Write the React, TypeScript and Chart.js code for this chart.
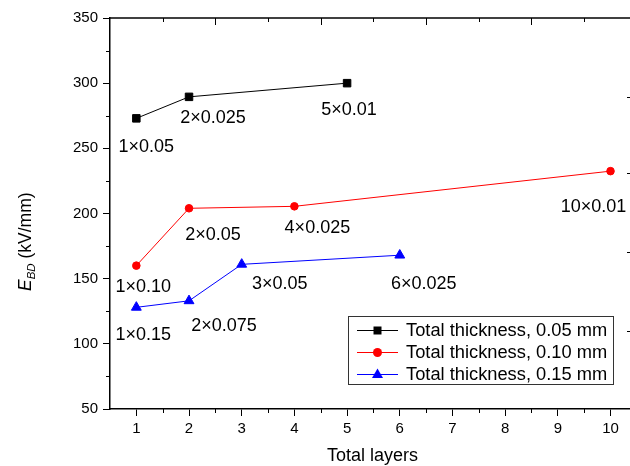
import React, { useEffect, useRef } from "react";
import { Chart, registerables } from "chart.js";

Chart.register(...registerables);

// ---- data ----
const layers05 = [1, 2, 5];
const ebd05 = [273, 289.5, 300];
const names05 = ["1×0.05", "2×0.025", "5×0.01"];

const layers10 = [1, 2, 4, 10];
const ebd10 = [160, 204, 205.5, 232.5];
const names10 = ["1×0.10", "2×0.05", "4×0.025", "10×0.01"];

const layers15 = [1, 2, 3, 6];
const ebd15 = [128, 133, 161, 168];
const names15 = ["1×0.15", "2×0.075", "3×0.05", "6×0.025"];

const seriesNames = [
  "Total thickness, 0.05 mm",
  "Total thickness, 0.10 mm",
  "Total thickness, 0.15 mm",
];

const xTicks = [1, 2, 3, 4, 5, 6, 7, 8, 9, 10];
const xMinorTicks = [1.5, 2.5, 3.5, 4.5, 5.5, 6.5, 7.5, 8.5, 9.5];
const topMajorTicks = [2.5, 4.5, 6.5, 8.5];
const topMinorTicks = [1.5, 3.5, 5.5, 7.5, 9.5];
const yTicks = [50, 100, 150, 200, 250, 300, 350];
const yMinorTicks = [75, 125, 175, 225, 275, 325];
const rightMarks = [289.5, 231, 170.5, 110];
const xTitle = "Total layers";

// label offsets (pixels, relative to point) – layout only
const offsets05 = [[10, 27], [24, 20], [2, 25.5]];
const offsets10 = [[7, 20], [24, 25], [23, 20], [-17, 34.5]];
const offsets15 = [[7, 26], [35, 24], [38, 18], [24, 27]];

const FONT = '"Liberation Sans", Arial, Helvetica, sans-serif';
const COLORS = ["#000000", "#ff0000", "#0000ff"];
const STYLES = ["rect", "circle", "triangle"];

function pts(xs: number[], ys: number[]) {
  return xs.map((x, i) => ({ x, y: ys[i] }));
}

function drawMarker(ctx: CanvasRenderingContext2D, style: string, x: number, y: number, color: string) {
  ctx.fillStyle = color;
  ctx.beginPath();
  if (style === "rect") {
    ctx.rect(x - 4, y - 4, 8, 8);
  } else if (style === "circle") {
    ctx.arc(x, y, 4.5, 0, Math.PI * 2);
  } else {
    ctx.moveTo(x, y - 6);
    ctx.lineTo(x + 5.5, y + 3.5);
    ctx.lineTo(x - 5.5, y + 3.5);
    ctx.closePath();
  }
  ctx.fill();
}

const decorPlugin = {
  id: "decor",
  afterDraw(chart: any) {
    const ctx: CanvasRenderingContext2D = chart.ctx;
    const area = chart.chartArea;
    const xs = chart.scales.x;
    const ys = chart.scales.y;
    ctx.save();
    ctx.strokeStyle = "#000";
    ctx.lineWidth = 1;

    // minor ticks bottom
    xMinorTicks.forEach((v) => {
      const px = Math.round(xs.getPixelForValue(v)) + 0.5;
      ctx.beginPath();
      ctx.moveTo(px, area.bottom);
      ctx.lineTo(px, area.bottom + 4);
      ctx.stroke();
    });
    // minor ticks left
    yMinorTicks.forEach((v) => {
      const py = Math.round(ys.getPixelForValue(v)) + 0.5;
      ctx.beginPath();
      ctx.moveTo(area.left, py);
      ctx.lineTo(area.left - 4, py);
      ctx.stroke();
    });
    // top axis line
    ctx.lineWidth = 1.5;
    ctx.beginPath();
    ctx.moveTo(area.left - 0.75, area.top);
    ctx.lineTo(area.right, area.top);
    ctx.stroke();
    ctx.lineWidth = 1;
    topMajorTicks.forEach((v) => {
      const px = Math.round(xs.getPixelForValue(v)) + 0.5;
      ctx.beginPath();
      ctx.moveTo(px, area.top);
      ctx.lineTo(px, area.top + 7);
      ctx.stroke();
    });
    topMinorTicks.forEach((v) => {
      const px = Math.round(xs.getPixelForValue(v)) + 0.5;
      ctx.beginPath();
      ctx.moveTo(px, area.top);
      ctx.lineTo(px, area.top + 4);
      ctx.stroke();
    });
    // right edge marks
    rightMarks.forEach((v) => {
      const py = Math.round(ys.getPixelForValue(v)) + 0.5;
      ctx.beginPath();
      ctx.moveTo(area.right - 3, py);
      ctx.lineTo(area.right, py);
      ctx.stroke();
    });

    // data labels
    const allNames = [names05, names10, names15];
    const allOffsets = [offsets05, offsets10, offsets15];
    ctx.font = `18px ${FONT}`;
    ctx.fillStyle = "#000";
    ctx.textAlign = "center";
    ctx.textBaseline = "alphabetic";
    allNames.forEach((names, di) => {
      const meta = chart.getDatasetMeta(di);
      names.forEach((n, j) => {
        const el = meta.data[j];
        const [dx, dy] = allOffsets[di][j];
        ctx.fillText(n, el.x + dx, el.y + dy + 6.4);
      });
    });

    // x title
    ctx.font = `18px ${FONT}`;
    ctx.textAlign = "center";
    ctx.fillText(xTitle, 372.5, 461);

    // y title
    ctx.save();
    ctx.translate(30.5, 291);
    ctx.rotate(-Math.PI / 2);
    ctx.textAlign = "left";
    ctx.font = `italic 17.5px ${FONT}`;
    ctx.fillText("E", 0, 0);
    let w = ctx.measureText("E").width;
    ctx.font = `italic 11.5px ${FONT}`;
    ctx.fillText("BD", w, 4);
    w += ctx.measureText("BD").width;
    ctx.font = `17.5px ${FONT}`;
    ctx.fillText(" (kV/mm)", w, 0);
    ctx.restore();

    // legend
    ctx.fillStyle = "#fff";
    ctx.fillRect(348, 316, 266, 69);
    ctx.strokeStyle = "#333";
    ctx.lineWidth = 1;
    ctx.strokeRect(348.5, 316.5, 265, 68);
    const rows = [330, 352, 374];
    seriesNames.forEach((name, i) => {
      const y = rows[i];
      ctx.strokeStyle = COLORS[i];
      ctx.lineWidth = 1;
      ctx.beginPath();
      ctx.moveTo(357, y + 0.5);
      ctx.lineTo(398, y + 0.5);
      ctx.stroke();
      drawMarker(ctx, STYLES[i], 377.5, y + 0.5, COLORS[i]);
      ctx.fillStyle = "#000";
      ctx.font = `18.3px ${FONT}`;
      ctx.textAlign = "left";
      ctx.textBaseline = "middle";
      ctx.fillText(name, 406, y + 1);
    });
    ctx.restore();
  },
};

export default function App() {
  const ref = useRef<HTMLCanvasElement>(null);
  useEffect(() => {
    if (!ref.current) return;
    const mk = (i: number, xs: number[], ys: number[], r: number) => ({
      label: seriesNames[i],
      data: pts(xs, ys),
      showLine: true,
      borderColor: COLORS[i],
      backgroundColor: COLORS[i],
      borderWidth: 1,
      pointStyle: STYLES[i],
      pointRadius: r,
      pointBorderWidth: 1,
      pointBorderColor: COLORS[i],
      pointBackgroundColor: COLORS[i],
      tension: 0,
    });
    const chart = new Chart(ref.current, {
      type: "scatter",
      data: {
        datasets: [
          mk(0, layers05, ebd05, 5.3),
          mk(1, layers10, ebd10, 3.8),
          mk(2, layers15, ebd15, 5.7),
        ] as any,
      },
      options: {
        animation: false,
        responsive: false,
        layout: { autoPadding: false, padding: { top: 18, right: 0, left: 0, bottom: 0 } },
        plugins: {
          legend: { display: false },
          tooltip: { enabled: false },
        },
        scales: {
          x: {
            type: "linear",
            position: "bottom",
            min: 0.5,
            max: 10.37,
            afterBuildTicks: (s: any) => {
              s.ticks = xTicks.map((v) => ({ value: v }));
            },
            afterFit: (s: any) => {
              s.height = 57;
              s.paddingLeft = 0;
              s.paddingRight = 0;
            },
            ticks: {
              color: "#000",
              font: { family: FONT, size: 15 },
              padding: 4,
              autoSkip: false,
              maxRotation: 0,
            },
            grid: {
              drawOnChartArea: false,
              drawTicks: true,
              tickLength: 7,
              color: "#000",
              lineWidth: 1,
            },
            border: { display: true, color: "#000", width: 1.5 },
          },
          y: {
            type: "linear",
            position: "left",
            min: 50,
            max: 350,
            afterBuildTicks: (s: any) => {
              s.ticks = yTicks.map((v) => ({ value: v }));
            },
            afterFit: (s: any) => {
              s.width = 110;
              s.paddingTop = 0;
              s.paddingBottom = 0;
            },
            ticks: {
              color: "#000",
              font: { family: FONT, size: 15 },
              padding: 5,
            },
            grid: {
              drawOnChartArea: false,
              drawTicks: true,
              tickLength: 7,
              color: "#000",
              lineWidth: 1,
            },
            border: { display: true, color: "#000", width: 1.5 },
          },
        },
      } as any,
      plugins: [decorPlugin],
    });
    return () => chart.destroy();
  }, []);
  return (
    <div style={{ position: "fixed", left: 0, top: 0, width: 630, height: 466, background: "#fff" }}>
      <canvas ref={ref} width={630} height={466} style={{ display: "block", width: 630, height: 466 }} />
    </div>
  );
}
